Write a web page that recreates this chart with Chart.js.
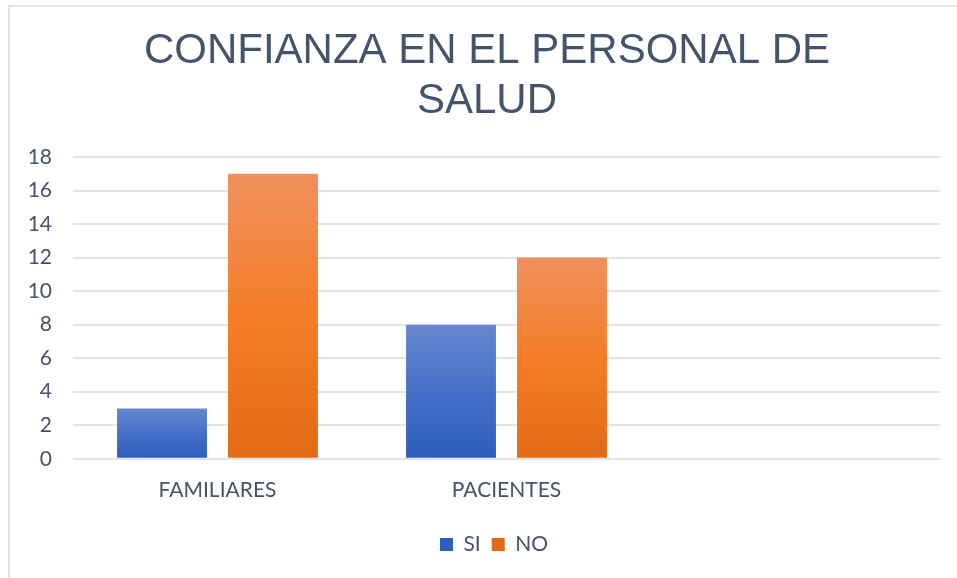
<!DOCTYPE html>
<html>
<head>
<meta charset="utf-8">
<script src="https://cdn.jsdelivr.net/npm/chart.js@4"></script>
<style>
  html, body { margin: 0; padding: 0; background: #ffffff; }
  body { width: 957px; height: 578px; position: relative; overflow: hidden; }
  #frame { position: absolute; left: 8px; top: 5px; width: 1000px; height: 600px; border-left: 2px solid #e2e6ea; border-top: 2px solid #e2e6ea; box-sizing: border-box; }
  #wrap { position: absolute; left: 0; top: 0; width: 957px; height: 578px; }
</style>
</head>
<body>
<div id="frame"></div>
<div id="wrap"><canvas id="c" width="957" height="578"></canvas></div>
<script>
const titleLines = ["CONFIANZA EN EL PERSONAL DE", "SALUD"];
const categories = ["FAMILIARES", "PACIENTES", ""];
const seriesNames = ["SI", "NO"];
const siValues = [3, 8, null];
const noValues = [17, 12, null];
const yTicks = [0, 2, 4, 6, 8, 10, 12, 14, 16, 18];

const TEXT = '#44546a';
const tickFont = { family: 'Lato', size: 21 };

function gradientFill(stops, solid) {
  return function (ctx) {
    const chart = ctx.chart;
    if (!chart.chartArea || ctx.raw == null || !chart.scales.y) return solid;
    const y = chart.scales.y;
    const top = y.getPixelForValue(ctx.raw);
    const bottom = y.getPixelForValue(0);
    if (!isFinite(top) || !isFinite(bottom) || top === bottom) return solid;
    const g = chart.ctx.createLinearGradient(0, top, 0, bottom);
    stops.forEach(s => g.addColorStop(s[0], s[1]));
    return g;
  };
}

const blueStops = [[0, '#6687cf'], [0.5, '#4570c8'], [1, '#2d5dbc']];
const orangeStops = [[0, '#f0905e'], [0.5, '#f47d26'], [1, '#e36a17']];

// Chart title drawn centred on the chart frame (frame spans x 8..966)
const frameTitle = {
  id: 'frameTitle',
  afterLayout(chart) {
    // centre the legend on the chart frame rather than the canvas
    if (chart.legend) {
      chart.legend.left += 19; chart.legend.right += 19;
      chart.legend.top += 1; chart.legend.bottom += 1;
    }
  },
  afterDraw(chart) {
    const ctx = chart.ctx;
    ctx.save();
    ctx.fillStyle = TEXT;
    ctx.font = 'normal 42px "Liberation Sans"';
    ctx.textAlign = 'center';
    ctx.textBaseline = 'middle';
    const cx = 487;
    titleLines.forEach((line, i) => ctx.fillText(line, cx, 51 + i * 50.4));
    ctx.restore();
  }
};

new Chart(document.getElementById('c'), {
  type: 'bar',
  data: {
    labels: categories,
    datasets: [
      { label: seriesNames[0], data: siValues, backgroundColor: gradientFill(blueStops, '#4472c4'),
        categoryPercentage: 0.768, barPercentage: 0.81 },
      { label: seriesNames[1], data: noValues, backgroundColor: gradientFill(orangeStops, '#ed7d31'),
        categoryPercentage: 0.768, barPercentage: 0.81 }
    ]
  },
  plugins: [frameTitle],
  options: {
    responsive: false,
    animation: false,
    devicePixelRatio: 1,
    layout: { padding: { left: 10, right: 17, top: 157, bottom: 14 } },
    plugins: {
      title: { display: false },
      legend: {
        position: 'bottom',
        labels: {
          color: TEXT,
          font: { family: 'Lato', size: 21 },
          boxWidth: 13, boxHeight: 13,
          padding: 11
        }
      },
      tooltip: { enabled: false }
    },
    scales: {
      x: {
        grid: { display: false, drawTicks: false },
        border: { display: false },
        ticks: { color: TEXT, font: tickFont, padding: 19, maxRotation: 0 }
      },
      y: {
        min: 0, max: 18,
        afterBuildTicks: (s) => { s.ticks = yTicks.map(v => ({ value: v })); },
        afterFit: (s) => { s.width = 63; },
        grid: { color: '#e1e5ea', lineWidth: 2, drawTicks: false },
        border: { display: false },
        ticks: { color: TEXT, font: tickFont, padding: 21 }
      }
    }
  }
});
</script>
</body>
</html>
